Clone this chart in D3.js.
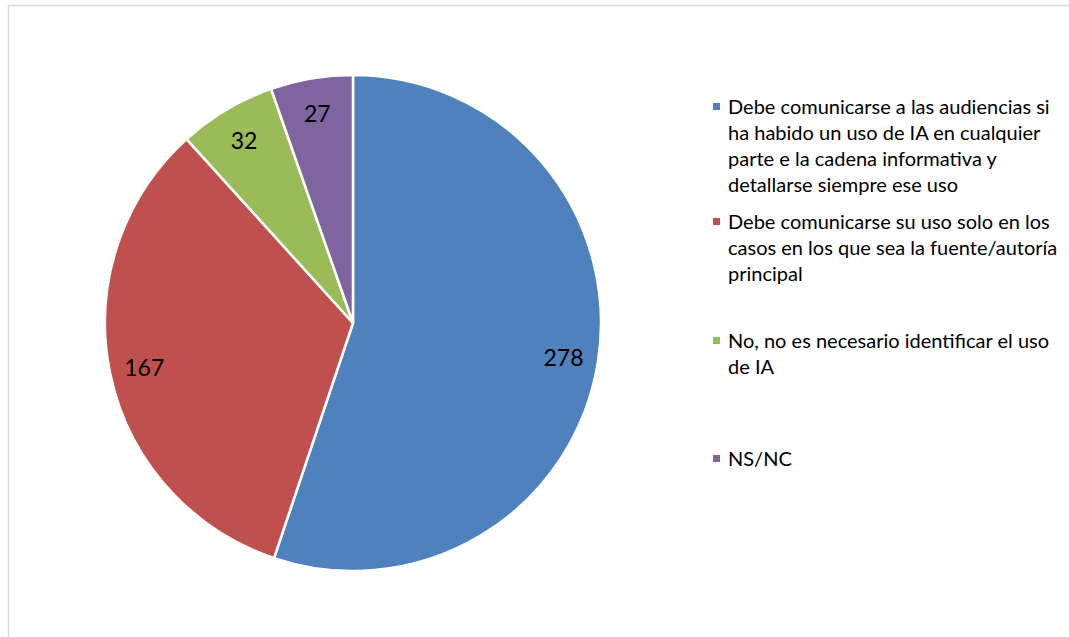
<!DOCTYPE html>
<html>
<head>
<meta charset="utf-8">
<script src="https://cdn.jsdelivr.net/npm/d3@7"></script>
<style>
  html, body { margin: 0; padding: 0; background: #fff; }
  svg { display: block; }
  text { font-family: Lato, "Open Sans", sans-serif; fill: #000; }
</style>
</head>
<body>
<svg id="chart" width="1069" height="637"></svg>
<script>
const categories = [
  "Debe comunicarse a las audiencias si ha habido un uso de IA en cualquier parte e la cadena informativa y detallarse siempre ese uso",
  "Debe comunicarse su uso solo en los casos en los que sea la fuente/autoría principal",
  "No, no es necesario identificar el uso de IA",
  "NS/NC"
];
const values = [278, 167, 32, 27];
const colors = ["#4F81BD", "#C0504D", "#9BBB59", "#8064A2"];

const svg = d3.select("#chart");

// chart border (partially visible)
svg.append("rect")
  .attr("x", 8.5).attr("y", 5.5)
  .attr("width", 1080).attr("height", 660)
  .attr("fill", "none").attr("stroke", "#d9d9d9").attr("stroke-width", 1.5);

const cx = 353, cy = 323, R = 248;
const data = categories.map((c, i) => ({ cat: c, value: values[i], color: colors[i] }));

const pie = d3.pie().value(d => d.value).sort(null);
const arcs = pie(data);
const arc = d3.arc().innerRadius(0).outerRadius(R);
const labelArc = d3.arc().innerRadius(R * 0.86).outerRadius(R * 0.86);

const g = svg.append("g").attr("transform", `translate(${cx},${cy})`);
g.selectAll("path.slice").data(arcs).enter().append("path")
  .attr("class", "slice")
  .attr("d", arc)
  .attr("fill", d => d.data.color)
  .attr("stroke", "#fff").attr("stroke-width", 2.5).attr("stroke-linejoin", "round");

g.selectAll("text.lbl").data(arcs).enter().append("text")
  .attr("class", "lbl")
  .attr("x", d => labelArc.centroid(d)[0])
  .attr("y", d => labelArc.centroid(d)[1])
  .attr("text-anchor", "middle")
  .attr("dominant-baseline", "central")
  .style("font-size", "23px")
  .text(d => d.data.value);

// legend
const legX = 728, fs = 20, lh = 26, maxW = 340;
const firstBaselines = [114, 229, 348, 466];
const leg = svg.append("g");
data.forEach((d, i) => {
  const t = leg.append("text")
    .attr("x", legX).attr("y", firstBaselines[i])
    .style("font-size", fs + "px");
  const words = d.cat.split(" ");
  let line = [];
  let tspan = t.append("tspan").attr("x", legX).attr("dy", 0);
  words.forEach(w => {
    line.push(w);
    tspan.text(line.join(" "));
    if (tspan.node().getComputedTextLength() > maxW && line.length > 1) {
      line.pop();
      tspan.text(line.join(" "));
      line = [w];
      tspan = t.append("tspan").attr("x", legX).attr("dy", lh).text(w);
    }
  });
  leg.append("rect")
    .attr("x", 713).attr("y", firstBaselines[i] - 11)
    .attr("width", 7).attr("height", 7)
    .attr("fill", d.color);
});
</script>
</body>
</html>
